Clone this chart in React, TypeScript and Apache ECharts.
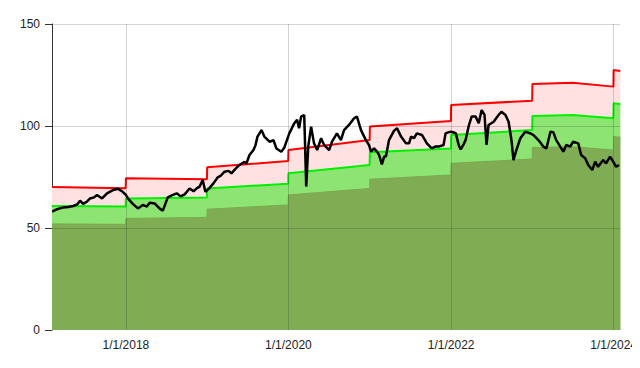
import React, { useEffect, useRef } from "react";
import * as echarts from "echarts";

// Yearly band (step) values
const stepDates = [
  "2017-02-03", "2017-12-31", "2018-01-01", "2018-12-31", "2019-01-01", "2019-12-31",
  "2020-01-01", "2020-12-31", "2021-01-01", "2021-12-31", "2022-01-01", "2022-12-31",
  "2023-01-01", "2023-07-01", "2023-12-31", "2024-01-01", "2024-01-31",
];
const highValues = [70.1, 69.5, 74.4, 73.9, 79.8, 82.8, 88.2, 93.1, 99.7, 102.5, 110.3, 112.4, 120.6, 121.2, 119.3, 127.5, 127.0];
const midValues = [60.8, 60.6, 64.5, 64.9, 69.4, 71.7, 76.8, 80.9, 87.1, 89.0, 95.6, 98.0, 104.9, 105.4, 103.8, 111.1, 110.8];
const lowValues = [52.0, 51.8, 54.7, 55.2, 59.2, 61.3, 66.2, 69.4, 73.9, 76.0, 81.7, 83.8, 89.5, 89.8, 88.2, 94.8, 94.5];

// Price line
const priceDates = [
  "2017-02-04", "2017-02-26", "2017-03-25", "2017-04-17", "2017-05-09", "2017-05-27", "2017-06-09", "2017-06-23",
  "2017-07-11", "2017-07-24", "2017-08-11", "2017-08-24", "2017-09-16", "2017-10-08", "2017-11-04", "2017-11-26",
  "2017-12-14", "2018-01-01", "2018-01-10", "2018-02-01", "2018-02-24", "2018-03-18", "2018-04-05", "2018-04-18",
  "2018-05-11", "2018-06-02", "2018-06-16", "2018-07-08", "2018-07-26", "2018-08-17", "2018-09-04", "2018-09-22",
  "2018-10-14", "2018-11-01", "2018-11-15", "2018-11-28", "2018-12-12", "2018-12-24", "2019-01-10", "2019-01-30",
  "2019-02-17", "2019-03-02", "2019-03-20", "2019-04-07", "2019-04-20", "2019-05-08", "2019-05-26", "2019-06-18",
  "2019-06-26", "2019-07-10", "2019-07-28", "2019-08-06", "2019-08-15", "2019-09-02", "2019-09-15", "2019-10-08",
  "2019-10-26", "2019-11-08", "2019-11-30", "2019-12-14", "2019-12-23", "2020-01-05", "2020-01-27", "2020-02-09",
  "2020-02-18", "2020-02-27", "2020-03-12", "2020-03-21", "2020-03-30", "2020-04-12", "2020-04-25", "2020-05-09",
  "2020-05-27", "2020-06-09", "2020-07-02", "2020-07-15", "2020-08-06", "2020-08-24", "2020-09-07", "2020-09-29",
  "2020-10-22", "2020-11-04", "2020-11-22", "2020-12-14", "2020-12-28", "2021-01-06", "2021-01-20", "2021-02-02",
  "2021-02-11", "2021-02-24", "2021-03-06", "2021-03-14", "2021-03-28", "2021-04-19", "2021-05-03", "2021-05-21",
  "2021-06-12", "2021-06-26", "2021-07-05", "2021-07-18", "2021-07-31", "2021-08-23", "2021-09-14", "2021-10-06",
  "2021-10-24", "2021-11-06", "2021-11-28", "2021-12-07", "2021-12-21", "2022-01-01", "2022-01-13", "2022-01-22",
  "2022-02-04", "2022-02-13", "2022-02-26", "2022-03-07", "2022-03-21", "2022-04-03", "2022-04-21", "2022-05-05",
  "2022-05-18", "2022-05-31", "2022-06-09", "2022-06-18", "2022-07-11", "2022-08-02", "2022-08-15", "2022-09-02",
  "2022-09-16", "2022-09-29", "2022-10-08", "2022-10-21", "2022-11-08", "2022-11-30", "2022-12-23", "2023-01-05",
  "2023-01-28", "2023-02-19", "2023-03-05", "2023-03-23", "2023-04-05", "2023-04-18", "2023-05-06", "2023-05-20",
  "2023-06-02", "2023-06-20", "2023-07-03", "2023-07-26", "2023-08-08", "2023-08-26", "2023-09-09", "2023-09-27",
  "2023-10-10", "2023-10-23", "2023-11-15", "2023-11-28", "2023-12-16", "2023-12-30", "2024-01-12", "2024-01-25",
];
const priceValues = [
  58.0, 59.2, 60.1, 60.3, 60.8, 61.5, 63.4, 61.8,
  63.0, 64.5, 65.0, 66.2, 64.5, 67.0, 68.6, 69.2,
  68.1, 66.2, 64.5, 61.8, 59.6, 61.3, 60.5, 62.4,
  62.0, 59.5, 58.5, 65.0, 66.0, 67.0, 65.5, 66.5,
  69.4, 68.0, 69.4, 70.3, 73.5, 67.8, 69.4, 72.0,
  74.8, 75.5, 77.6, 78.0, 76.8, 79.0, 80.9, 82.5,
  81.5, 85.8, 88.2, 90.5, 94.8, 98.0, 94.8, 92.3,
  93.0, 89.0, 87.4, 89.5, 92.3, 96.4, 101.3, 103.0,
  98.9, 104.6, 105.4, 70.3, 89.9, 99.7, 91.5, 88.2,
  94.0, 90.7, 88.2, 92.3, 96.4, 93.1, 98.0, 100.5,
  103.8, 104.6, 98.0, 93.1, 90.7, 87.4, 89.0, 87.4,
  85.8, 81.2, 85.0, 85.0, 93.1, 97.6, 98.9, 94.8,
  91.5, 91.5, 94.8, 94.0, 96.4, 95.6, 91.5, 89.0,
  90.0, 89.9, 90.7, 96.4, 97.0, 97.2, 96.8, 96.4,
  90.7, 88.5, 91.0, 93.1, 100.0, 104.6, 104.6, 101.3,
  107.8, 105.4, 90.7, 100.5, 102.1, 105.4, 107.0, 105.4,
  102.1, 93.1, 83.3, 88.2, 94.0, 97.2, 96.4, 95.6,
  93.1, 89.9, 89.0, 97.2, 97.0, 93.1, 89.9, 87.4,
  90.7, 89.9, 92.3, 91.5, 85.8, 84.2, 80.9, 78.4,
  82.5, 80.0, 83.3, 81.7, 85.0, 82.5, 80.0, 80.9,
];

const xMin = "2017-02-03";
const xMax = "2024-01-31";
const yTicks = [0, 50, 100, 150];
const gridYears = ["2018-01-01", "2020-01-01", "2022-01-01", "2024-01-01"];

const toTs = (s: string) => new Date(s + "T00:00:00").getTime();
const zip = (d: string[], v: number[]) => d.map((x, i) => [toTs(x), v[i]]);
const labelYears = gridYears.map((g) => new Date(toTs(g)).getFullYear());

export default function App() {
  const ref = useRef<HTMLDivElement>(null);
  useEffect(() => {
    if (!ref.current) return;
    const chart = echarts.init(ref.current, null, { renderer: "svg" });
    const font = "'Liberation Sans', Arial, sans-serif";
    const gridColor = "rgba(0,0,0,0.17)";
    const DAY = 86400000;
    chart.setOption({
      animation: false,
      grid: { left: 52, right: 18, top: 24, bottom: 38 },
      xAxis: {
        type: "time",
        min: toTs(xMin),
        max: toTs(xMax),
        minInterval: 365 * DAY,
        maxInterval: 366 * DAY,
        axisLine: { show: false },
        axisTick: { show: false },
        splitLine: { show: false },
        axisLabel: {
          show: true,
          hideOverlap: false,
          margin: 9,
          color: "#222",
          fontSize: 12,
          fontFamily: font,
          formatter: (v: number) => {
            const d = new Date(v);
            if (d.getMonth() !== 0 || d.getDate() !== 1) return "";
            if (labelYears.indexOf(d.getFullYear()) < 0) return "";
            return `${d.getMonth() + 1}/${d.getDate()}/${d.getFullYear()}`;
          },
        },
      },
      yAxis: {
        type: "value",
        min: yTicks[0],
        max: yTicks[yTicks.length - 1],
        interval: 50,
        axisLine: { show: true, lineStyle: { color: "#333", width: 1 } },
        axisTick: { show: true, length: 7, lineStyle: { color: "#333" } },
        splitLine: { show: false },
        axisLabel: { color: "#222", fontSize: 12, fontFamily: font, margin: 12 },
      },
      series: [
        {
          type: "line",
          data: zip(stepDates, highValues),
          showSymbol: false,
          lineStyle: { color: "#ff0000", width: 2 },
          areaStyle: { color: "#ffe1e1", opacity: 1 },
          z: 2,
          markLine: {
            silent: true,
            symbol: "none",
            z: 5,
            label: { show: false },
            lineStyle: { color: gridColor, type: "solid", width: 1 },
            data: [
              ...gridYears.map((g) => ({ xAxis: toTs(g) })),
              ...yTicks.slice(1).map((v) => ({ yAxis: v })),
            ],
          },
        },
        {
          type: "line",
          data: zip(stepDates, midValues),
          showSymbol: false,
          lineStyle: { color: "#00f000", width: 2 },
          areaStyle: { color: "#8de472", opacity: 1 },
          z: 3,
        },
        {
          type: "line",
          data: zip(stepDates, lowValues),
          showSymbol: false,
          lineStyle: { color: "#7aa84f", width: 1 },
          areaStyle: { color: "#80ad54", opacity: 1 },
          z: 4,
        },
        {
          type: "line",
          data: zip(priceDates, priceValues),
          showSymbol: false,
          lineStyle: { color: "#000000", width: 2.5 },
          z: 10,
        },
      ],
    });
    return () => chart.dispose();
  }, []);
  return <div ref={ref} style={{ width: 640, height: 368, margin: -8 }} />;
}
